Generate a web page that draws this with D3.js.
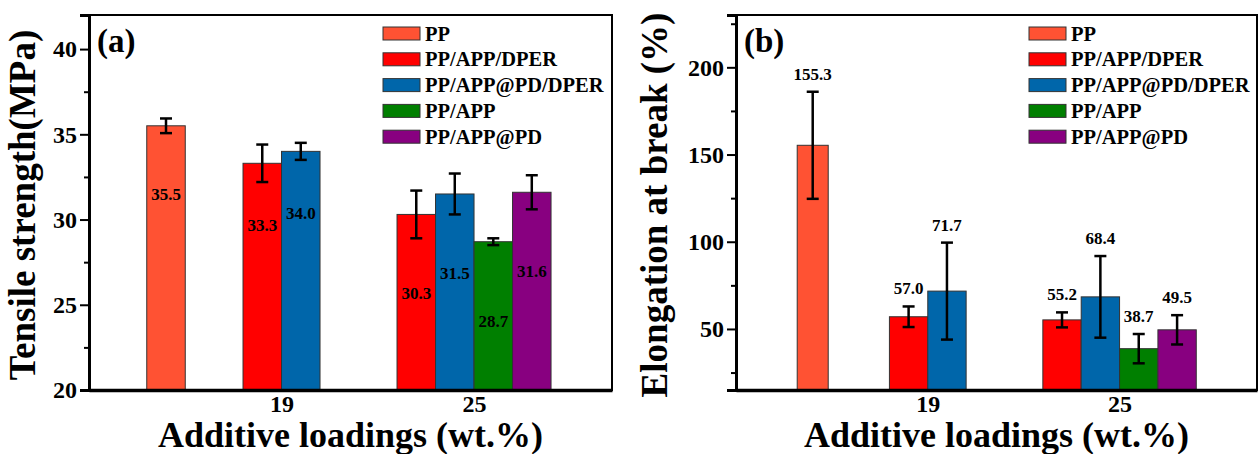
<!DOCTYPE html>
<html>
<head>
<meta charset="utf-8">
<script src="https://cdn.jsdelivr.net/npm/d3@7"></script>
<style>
  body { margin: 0; background: #fff; }
  svg text { font-family: "Liberation Serif", "Times New Roman", serif; font-weight: bold; fill: #000; }
</style>
</head>
<body>
<svg id="chart" width="1259" height="454"></svg>
<script>
// series shown in the legends
const seriesNames = ["PP", "PP/APP/DPER", "PP/APP@PD/DPER", "PP/APP", "PP/APP@PD"];

// one entry per bar
const barGroup  = ["PP", "19", "19", "25", "25", "25", "25"];
const barSeries = ["PP", "PP/APP/DPER", "PP/APP@PD/DPER", "PP/APP/DPER", "PP/APP@PD/DPER", "PP/APP", "PP/APP@PD"];

const tensileMean = [35.5, 33.3, 34.0, 30.3, 31.5, 28.7, 31.6];
const tensileErr  = [0.43, 1.1, 0.5, 1.4, 1.2, 0.2, 1.0];

const elongMean = [155.3, 57.0, 71.7, 55.2, 68.4, 38.7, 49.5];
const elongErr  = [30.7, 5.9, 27.8, 4.3, 23.4, 8.4, 8.4];

const loadingTicks = ["19", "25"];
const tensileTicks = [20, 25, 30, 35, 40];
const elongTicks = [50, 100, 150, 200];

const color = d3.scaleOrdinal()
    .domain(seriesNames)
    .range(["#FF5233", "#FF0000", "#0066AA", "#007F00", "#880080"]);

const svg = d3.select("#chart");

function drawPanel(cfg) {
    const w = cfg.right - cfg.left;
    const h = cfg.bottom - cfg.top;
    const g = svg.append("g").attr("transform", `translate(${cfg.left},${cfg.top})`);

    const x = d3.scaleLinear().domain([13, 29.3]).range([0, w]);
    const y = d3.scaleLinear().domain(cfg.yDomain).range([h, 0]);

    // where each group sits on the x axis (PP has no loading tick)
    const groupPos = {PP: 15.4, "19": 19, "25": 25};
    const barW = 1.2;

    const bars = cfg.mean.map((v, i) => ({
        group: barGroup[i], series: barSeries[i], value: v, err: cfg.err[i]
    }));
    // lay bars side by side, centred on their group position
    const counts = d3.rollup(bars, v => v.length, d => d.group);
    const seen = {};
    bars.forEach(d => {
        const k = seen[d.group] = (seen[d.group] || 0) + 1;
        const bw = d.group === "PP" ? cfg.ppWidth : barW;
        const n = counts.get(d.group);
        d.x0 = groupPos[d.group] - n * bw / 2 + (k - 1) * bw;
        d.x1 = d.x0 + bw;
        d.cx = (d.x0 + d.x1) / 2;
    });

    g.selectAll(".bar").data(bars).enter().append("rect")
        .attr("class", "bar")
        .attr("x", d => x(d.x0))
        .attr("width", d => x(d.x1) - x(d.x0))
        .attr("y", d => y(d.value))
        .attr("height", d => h - y(d.value))
        .attr("fill", d => color(d.series))
        .attr("stroke", "#333")
        .attr("stroke-width", 1);

    // error bars
    const eb = g.selectAll(".err").data(bars).enter().append("g")
        .attr("class", "err")
        .attr("stroke", "#000").attr("stroke-width", 2.5);
    eb.append("line")
        .attr("x1", d => x(d.cx)).attr("x2", d => x(d.cx))
        .attr("y1", d => y(d.value + d.err)).attr("y2", d => y(d.value - d.err));
    eb.append("line")
        .attr("x1", d => x(d.cx) - 6).attr("x2", d => x(d.cx) + 6)
        .attr("y1", d => y(d.value + d.err)).attr("y2", d => y(d.value + d.err));
    eb.append("line")
        .attr("x1", d => x(d.cx) - 6).attr("x2", d => x(d.cx) + 6)
        .attr("y1", d => y(d.value - d.err)).attr("y2", d => y(d.value - d.err));

    // value labels
    g.selectAll(".val").data(bars).enter().append("text")
        .attr("class", "val")
        .attr("x", d => x(d.cx))
        .attr("y", d => cfg.inside
            ? y(d.value) + cfg.labelDrop[d.group]
            : y(d.value + d.err) - 18)
        .attr("dy", "0.35em")
        .attr("text-anchor", "middle")
        .style("font-size", "17px")
        .text(d => d.value.toFixed(1));

    // frame: thin top/right, thick left/bottom
    g.append("rect").attr("width", w).attr("height", h)
        .attr("fill", "none").attr("stroke", "#000").attr("stroke-width", 2);

    const yAxis = g.append("g")
        .call(d3.axisLeft(y).tickValues(cfg.yTicks).tickSize(9).tickPadding(3).tickFormat(d3.format("d")));
    yAxis.select(".domain").attr("stroke-width", 3);
    yAxis.selectAll(".tick line").attr("stroke-width", 2);
    yAxis.selectAll("text").style("font-size", "24px").attr("fill", "#000");

    const minor = g.append("g")
        .call(d3.axisLeft(y).tickValues(cfg.yMinor).tickSize(5).tickFormat(""));
    minor.select(".domain").remove();
    minor.selectAll(".tick line").attr("stroke-width", 2);

    const xAxis = g.append("g")
        .attr("transform", `translate(0,${h})`)
        .call(d3.axisBottom(x).tickValues(loadingTicks.map(Number)).tickSize(0).tickPadding(5).tickFormat(d3.format("d")));
    xAxis.select(".domain").attr("stroke-width", 3.5);
    xAxis.selectAll("text").style("font-size", "24px").attr("fill", "#000");

    g.append("text")
        .attr("x", w / 2).attr("y", h + 57)
        .attr("text-anchor", "middle")
        .style("font-size", "36px")
        .text("Additive loadings (wt.%)");

    g.append("text")
        .attr("transform", `translate(${cfg.yTitleX - cfg.left},${190}) rotate(-90)`)
        .attr("text-anchor", "middle")
        .style("font-size", "37px")
        .text(cfg.yTitle);

    g.append("text")
        .attr("x", 8).attr("y", 37)
        .style("font-size", "33px")
        .text(cfg.tag);

    // legend
    const lg = g.append("g").attr("transform", `translate(${cfg.legendX - cfg.left},0)`);
    const rows = lg.selectAll(".row").data(seriesNames).enter().append("g")
        .attr("transform", (d, i) => `translate(0,${18.5 + i * 25.8})`);
    rows.append("rect")
        .attr("x", 0).attr("y", -6.5).attr("width", 37).attr("height", 13)
        .attr("fill", d => color(d)).attr("stroke", "#333").attr("stroke-width", 1);
    rows.append("text")
        .attr("x", 42).attr("dy", "0.35em")
        .style("font-size", "20.5px")
        .text(d => d);
}

drawPanel({
    left: 89, right: 612, top: 15, bottom: 390,
    yDomain: [20, 42], yTicks: tensileTicks, yMinor: [22.5, 27.5, 32.5, 37.5],
    mean: tensileMean, err: tensileErr, ppWidth: 1.2,
    inside: true, labelDrop: {PP: 68, "19": 62, "25": 79},
    yTitle: "Tensile strength(MPa)", yTitleX: 35, tag: "(a)", legendX: 383
});

drawPanel({
    left: 736, right: 1257, top: 15, bottom: 390,
    yDomain: [15, 230], yTicks: elongTicks, yMinor: [25, 75, 125, 175, 225],
    mean: elongMean, err: elongErr, ppWidth: 0.97,
    inside: false,
    yTitle: "Elongation at break (%)", yTitleX: 667, tag: "(b)", legendX: 1029
});
</script>
</body>
</html>
